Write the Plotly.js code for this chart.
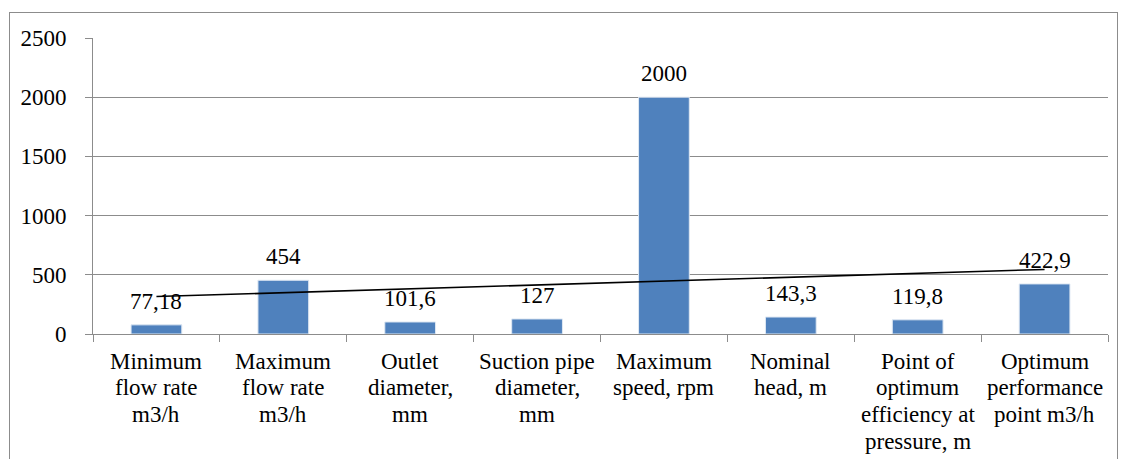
<!DOCTYPE html>
<html>
<head>
<meta charset="utf-8">
<script src="https://cdn.plot.ly/plotly-3.0.1.min.js"></script>
<style>
  html, body { margin: 0; padding: 0; background: #fff; overflow: hidden; font-family: 'Liberation Serif', serif; }
  #chart text, #chart tspan { font-family: 'Liberation Serif', serif !important; }
  #frame { position: absolute; left: 9px; top: 12px; width: 1109px; height: 460px; border: 1px solid #8c8c8c; box-sizing: border-box; }
  #chart { position: absolute; left: 0; top: 0; width: 1123px; height: 459px; }
</style>
</head>
<body>
<div id="frame"></div>
<div id="chart"></div>
<script>
const categories = [
  "Minimum<br>flow rate<br>m3/h",
  "Maximum<br>flow rate<br>m3/h",
  "Outlet<br>diameter,<br>mm",
  "Suction pipe<br>diameter,<br>mm",
  "Maximum<br>speed, rpm",
  "Nominal<br>head, m",
  "Point of<br>optimum<br>efficiency at<br>pressure, m",
  "Optimum<br>performance<br>point m3/h"
];
const values = [77.18, 454, 101.6, 127, 2000, 143.3, 119.8, 422.9];
const valueLabels = ["77,18", "454", "101,6", "127", "2000", "143,3", "119,8", "422,9"];
const yTicks = [0, 500, 1000, 1500, 2000, 2500];

// Linear trendline (least squares) from the bar values
const n = values.length;
const xs = values.map((_, i) => i + 1);
const mx = xs.reduce((a, b) => a + b, 0) / n;
const my = values.reduce((a, b) => a + b, 0) / n;
let sxy = 0, sxx = 0;
for (let i = 0; i < n; i++) { sxy += (xs[i] - mx) * (values[i] - my); sxx += (xs[i] - mx) ** 2; }
const slope = sxy / sxx, icpt = my - slope * mx;
const trend = xs.map(x => icpt + slope * x);

function mkFont() { return { family: "Liberation Serif", size: 23, color: "#000000" }; }

const bars = {
  type: "bar",
  x: categories,
  y: values,
  marker: { color: "#4F81BD", line: { color: "#dfe8f3", width: 1 } },
  hoverinfo: "none",
  showlegend: false
};
const trendLine = {
  type: "scatter",
  mode: "lines",
  x: categories,
  y: trend,
  line: { color: "#000", width: 1.6 },
  hoverinfo: "none",
  showlegend: false
};

const annotations = categories.map((c, i) => ({
  x: c, y: values[i], text: valueLabels[i],
  xref: "x", yref: "y", showarrow: false,
  yanchor: "bottom", yshift: 9, font: mkFont()
}));

// Category labels, one annotation per line for tight line spacing
categories.forEach(c => {
  c.split("<br>").forEach((line, j) => {
    annotations.push({
      x: c, y: 0, xref: "x", yref: "paper",
      text: line, showarrow: false,
      yanchor: "middle", yshift: -(27 + j * 26.7),
      font: mkFont()
    });
  });
});

const layout = {
  width: 1123, height: 459,
  margin: { l: 93, r: 15, t: 38, b: 125 },
  paper_bgcolor: "rgba(0,0,0,0)",
  plot_bgcolor: "rgba(0,0,0,0)",
  font: mkFont(),
  bargap: 0.6,
  xaxis: {
    type: "category",
    showgrid: false,
    showline: true, linecolor: "#8c8c8c", linewidth: 1,
    ticks: "outside", tickson: "boundaries", ticklen: 7, tickcolor: "#8c8c8c",
    showticklabels: false,
    zeroline: false
  },
  yaxis: {
    range: [0, 2500],
    tickvals: yTicks,
    ticktext: yTicks.map(String),
    showgrid: true, gridcolor: "#8c8c8c", gridwidth: 1,
    showline: true, linecolor: "#8c8c8c", linewidth: 1,
    ticks: "outside", ticklen: 7, tickcolor: "#8c8c8c",
    ticklabelstandoff: 14,
    tickfont: mkFont(),
    zeroline: false
  },
  annotations: annotations
};

Plotly.newPlot("chart", [bars, trendLine], layout, { displayModeBar: false });
</script>
</body>
</html>
